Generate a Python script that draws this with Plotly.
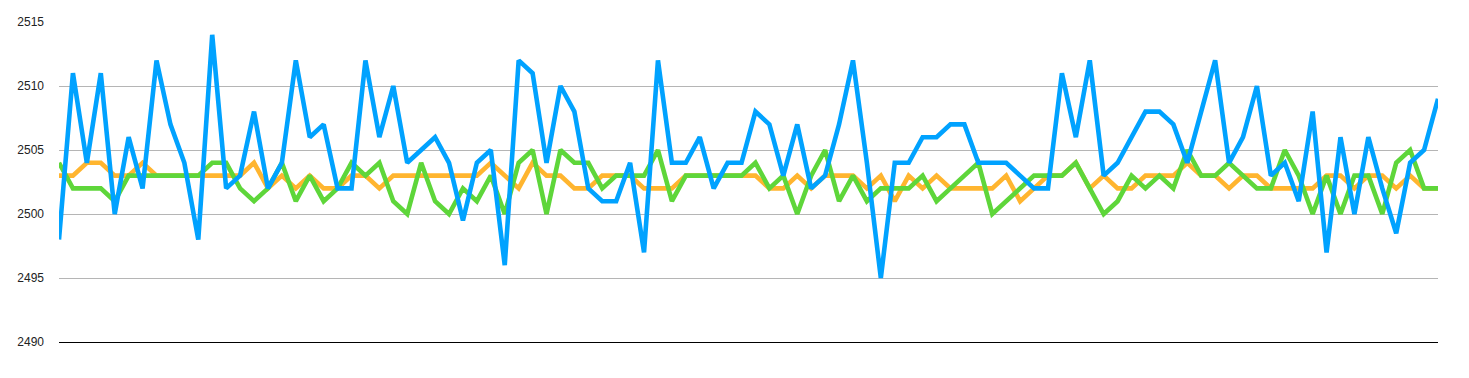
import plotly.graph_objects as go

x_index = list(range(100))

blue_values = [
    2498, 2511, 2504, 2511, 2500, 2506, 2502, 2512, 2507, 2504,
    2498, 2514, 2502, 2503, 2508, 2502, 2504, 2512, 2506, 2507,
    2502, 2502, 2512, 2506, 2510, 2504, 2505, 2506, 2504, 2499.5,
    2504, 2505, 2496, 2512, 2511, 2504, 2510, 2508, 2502, 2501,
    2501, 2504, 2497, 2512, 2504, 2504, 2506, 2502, 2504, 2504,
    2508, 2507, 2503, 2507, 2502, 2503, 2507, 2512, 2504, 2495,
    2504, 2504, 2506, 2506, 2507, 2507, 2504, 2504, 2504, 2503,
    2502, 2502, 2511, 2506, 2512, 2503, 2504, 2506, 2508, 2508,
    2507, 2504, 2508, 2512, 2504, 2506, 2510, 2503, 2504, 2501,
    2508, 2497, 2506, 2500, 2506, 2502, 2498.5, 2504, 2505, 2509,
]

orange_values = [
    2503, 2503, 2504, 2504, 2503, 2503, 2504, 2503, 2503, 2503,
    2503, 2503, 2503, 2503, 2504, 2502, 2503, 2502, 2503, 2502,
    2502, 2503, 2503, 2502, 2503, 2503, 2503, 2503, 2503, 2503,
    2503, 2504, 2503, 2502, 2504, 2503, 2503, 2502, 2502, 2503,
    2503, 2503, 2502, 2502, 2502, 2503, 2503, 2503, 2503, 2503,
    2503, 2502, 2502, 2503, 2502, 2503, 2503, 2503, 2502, 2503,
    2501, 2503, 2502, 2503, 2502, 2502, 2502, 2502, 2503, 2501,
    2502, 2503, 2503, 2504, 2502, 2503, 2502, 2502, 2503, 2503,
    2503, 2504, 2503, 2503, 2502, 2503, 2503, 2502, 2502, 2502,
    2502, 2503, 2503, 2502, 2503, 2503, 2502, 2503, 2502, 2502,
]

green_values = [
    2504, 2502, 2502, 2502, 2501, 2503, 2503, 2503, 2503, 2503,
    2503, 2504, 2504, 2502, 2501, 2502, 2504, 2501, 2503, 2501,
    2502, 2504, 2503, 2504, 2501, 2500, 2504, 2501, 2500, 2502,
    2501, 2503, 2500, 2504, 2505, 2500, 2505, 2504, 2504, 2502,
    2503, 2503, 2503, 2505, 2501, 2503, 2503, 2503, 2503, 2503,
    2504, 2502, 2503, 2500, 2503, 2505, 2501, 2503, 2501, 2502,
    2502, 2502, 2503, 2501, 2502, 2503, 2504, 2500, 2501, 2502,
    2503, 2503, 2503, 2504, 2502, 2500, 2501, 2503, 2502, 2503,
    2502, 2505, 2503, 2503, 2504, 2503, 2502, 2502, 2505, 2503,
    2500, 2503, 2500, 2503, 2503, 2500, 2504, 2505, 2502, 2502,
]

y_ticks = [2490, 2495, 2500, 2505, 2510, 2515]

fig = go.Figure()
fig.add_trace(go.Scatter(x=x_index, y=orange_values, mode="lines",
                         line=dict(color="#FFB52F", width=4.6), showlegend=False,
                         hoverinfo="skip"))
fig.add_trace(go.Scatter(x=x_index, y=green_values, mode="lines",
                         line=dict(color="#5ED63A", width=4.6), showlegend=False,
                         hoverinfo="skip"))
fig.add_trace(go.Scatter(x=x_index, y=blue_values, mode="lines",
                         line=dict(color="#00A2FF", width=4.6), showlegend=False,
                         hoverinfo="skip"))

fig.update_layout(
    width=1469, height=378,
    margin=dict(l=59, r=31, t=22, b=36),
    paper_bgcolor="white", plot_bgcolor="white",
    font=dict(family="Liberation Sans, Arial, Helvetica, sans-serif", size=12, color="#222"),
    xaxis=dict(range=[0, 99], showgrid=False, showticklabels=False, ticks="",
               zeroline=False, showline=True, linecolor="#000", linewidth=1.2,
               fixedrange=True),
    yaxis=dict(range=[2490, 2515], tickvals=y_ticks, ticktext=[str(v) for v in y_ticks],
               showgrid=True, gridcolor="#B5B5B5", gridwidth=1, zeroline=False,
               showline=False, ticks="", ticklabelstandoff=14, fixedrange=True),
)

fig.write_html("out.html")
